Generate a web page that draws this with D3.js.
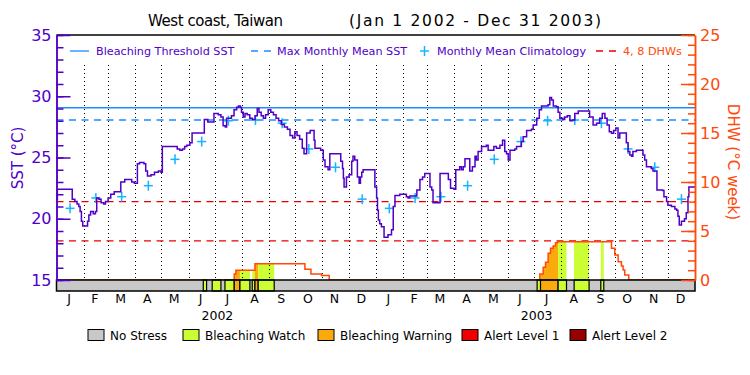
<!DOCTYPE html>
<html><head><meta charset="utf-8">
<script src="https://cdn.jsdelivr.net/npm/d3@7"></script>
<style>
body{margin:0;background:#fff;}
svg{display:block;font-family:"DejaVu Sans",sans-serif;}
</style></head><body>
<svg id="c" width="750" height="375"></svg>
<script>
// ---------------- DATA ----------------
const titleText = "West coast, Taiwan";
const periodText = "(Jan 1 2002 - Dec 31 2003)";
// SST (°C), day offset from Jan 1 2002 (step series)
const sstDays = [0,1,18,21,23.5,25.5,27,28.5,30,35.5,37,39,42,44.5,46,48.5,51,54,56,59,62,66,73.5,78,86,89,92.5,95,100,102,104,108,112,116.5,119.5,121,125,134,138,141,144,146.5,149,152.5,155,163,166.5,169,173,177,180,185,188,190.5,193,194.5,198,200,203,206,208,210,211.5,213.5,215.5,218,221,224,227,229.5,231.5,234,236.5,239,242,245,248,251,254,257,260.5,264,267,270,272.5,275,278,281,283,286,290,293,294.5,295.5,302,305,307,310.5,312.5,325,327,328,328.8,331.5,334.5,337.5,339,341,344,346,347.5,349,350.5,364,
366,367,368,369.5,371.5,374.5,379,383,385,387,392.5,400,402,404,412,415.5,418.5,421,427,429,430.5,438.5,448,450.5,454.5,456.5,461,463,465,467,472.5,475.5,478.5,480,482,486,491.5,493.5,500,503,507,510,512.5,514.5,516.5,518.5,524,526,531.5,533.5,537.5,543,545,549,552,554.5,562,564,566,568,571.5,573.5,575.5,579,581,584,587,590,592.5,596.5,608,609.5,613.5,617.5,621,624,627,629.5,632,634.5,637,639.5,642,644,649.5,651.5,653.5,655.5,657.5,659,663,669,670.5,672.5,674.5,680,682,686.5,693,694.5,697.5,699,703,707,709,710.5,712,714.5,718,720,722,723,730];
const sstValues = [21.6,22.4,21.6,21.4,21.2,21.0,20.6,19.8,19.4,19.8,20.3,20.6,20.4,20.6,21.7,21.6,21.3,21.2,21.4,21.7,22.0,22.2,23.0,23.2,23.0,22.9,24.5,24.6,24.5,23.9,23.5,23.6,23.8,23.9,23.8,25.9,25.9,25.9,25.7,25.6,25.7,25.9,26.0,26.2,27.0,27.0,27.0,28.1,27.9,27.9,28.6,28.5,28.3,27.6,27.5,28.2,28.2,28.4,28.9,29.1,29.2,29.1,28.7,28.3,28.6,28.5,28.2,28.1,28.4,29.0,28.7,28.4,28.2,28.5,28.9,28.7,28.5,28.2,28.0,27.7,27.5,27.3,26.8,26.6,27.1,26.8,26.5,25.75,25.3,27.0,27.2,27.2,26.4,25.75,25.6,24.8,24.25,24.0,25.3,24.7,24.1,23.3,22.6,23.4,23.6,24.7,25.1,24.8,23.4,22.9,23.4,23.8,24.0,22.6,
21.7,20.7,19.9,19.6,19.35,18.5,18.7,19.1,21.0,21.9,22.0,21.8,21.7,21.86,22.35,23.2,23.4,23.7,22.6,22.35,21.3,23.7,23.2,22.5,22.4,24.0,24.25,24.0,24.25,24.9,23.9,24.25,25.1,24.8,25.5,25.9,26.0,25.6,25.9,25.75,26.0,26.4,25.5,25.3,24.8,25.6,25.7,25.9,26.3,26.7,27.2,27.3,27.65,28.2,28.9,29.2,29.3,29.9,29.7,29.2,29.15,28.7,28.2,28.1,28.3,28.4,28.0,28.06,28.6,28.8,28.8,28.3,27.65,27.8,28.2,28.6,28.2,27.65,27.1,26.97,27.2,27.4,26.6,27.0,27.0,26.2,25.5,25.2,25.1,25.5,25.6,25.6,25.2,24.8,24.25,24.1,23.9,22.35,22.3,21.8,21.4,21.1,21.0,20.8,20.7,20.2,19.5,19.8,20.0,20.5,21.8,22.6,22.6];
// Monthly mean climatology (°C), Jan..Dec
const climValues = [20.85,21.7,21.8,22.7,24.85,26.3,28.0,28.06,27.8,25.7,24.2,21.6];
const maxMonthlyMean = 28.06;
const bleachingThreshold = 29.06;
const dhwRefLevels = [4, 8];
// Degree heating weeks (step series)
const dhwDays   = [0,203.2,205.1,226.9,284,290.9,303,311.8,552.6,556.4,559.1,562.1,564.8,567.8,570.5,572.8,634.5,638.3,642.1,645.9,647.8,649.7,654.3,730];
const dhwValues = [0,0.6,1.0,1.65,1.1,0.6,0.45,0,0.61,1.29,1.8,2.72,3.23,3.47,3.81,3.9,3.23,2.55,1.87,1.43,1.02,0.51,0,0];
// Bleaching alert status (0 no stress, 1 watch, 2 warning)
const statusStart = [0,167.8,171.6,178,188,192.6,203.2,209.7,221.1,223.8,226.9,230.6,248.9,549.5,553.4,573.5,583.1,591.8,608.9,622.3,625.7];
const statusLevel = [0,1,0,1,0,1,2,1,0,1,2,1,0,1,2,1,0,1,0,1,0];
const statusNames = ["No Stress","Bleaching Watch","Bleaching Warning","Alert Level 1","Alert Level 2"];
const monthLabels = ["J","F","M","A","M","J","J","A","S","O","N","D"];
const yearLabels = ["2002","2003"];
const sstTicks = [15,20,25,30,35];
const dhwTicks = [0,5,10,15,20,25];
const topLegend = ["Bleaching Threshold SST","Max Monthly Mean SST","Monthly Mean Climatology","4, 8 DHWs"];

// ---------------- STYLE ----------------
const C = {sst:"#5000C8", thr:"#1E8CFF", cross:"#14B4FF", dhw:"#FF4A0A", ref:"#E80000",
  status:["#C8C8C8","#CCFF33","#FAAA0A","#F00000","#960000"]};

const svg = d3.select("#c");
const L = 56.5, R = 695, T = 35, B = 280, SB = 291;
const x = d3.scaleLinear().domain([0,730]).range([L,R]);
const y = d3.scaleLinear().domain([15,35]).range([B,T]);
const yd = d3.scaleLinear().domain([0,25]).range([B,T]);

const t0 = Date.UTC(2002,0,1);
const dayOf = d => (d - t0)/864e5;
const months = d3.utcMonth.range(new Date(t0), new Date(Date.UTC(2004,0,2)));
const monthStarts = months.map(dayOf);
const monthMids = monthStarts.slice(0,-1).map((d,i)=>(d+monthStarts[i+1])/2);

// ---- status fills under DHW curve ----
const segs = statusStart.map((s,i)=>({s, e: i<statusStart.length-1?statusStart[i+1]:730, lev: statusLevel[i]}));
const dhwPts = dhwDays.map((d,i)=>[d,dhwValues[i]]);
const area = d3.area().x(d=>x(d[0])).y0(B).y1(d=>yd(d[1])).curve(d3.curveStepAfter);
const defs = svg.append("defs");
segs.filter(s=>s.lev>0).forEach((s,i)=>{
  defs.append("clipPath").attr("id","cp"+i).append("rect")
    .attr("x",x(s.s)).attr("y",T).attr("width",x(s.e)-x(s.s)).attr("height",B-T);
  svg.append("path").attr("d",area(dhwPts)).attr("fill",C.status[s.lev]).attr("clip-path",`url(#cp${i})`);
});

// ---- dotted month lines ----
svg.append("g").selectAll("line").data(monthStarts.filter(d=>d>0 && d<730)).join("line")
  .attr("x1",d=>Math.round(x(d))+0.5).attr("x2",d=>Math.round(x(d))+0.5).attr("y1",65).attr("y2",B)
  .attr("stroke","#000").attr("stroke-width",1).attr("stroke-dasharray","1,3");

// ---- reference lines ----
svg.append("line").attr("x1",L).attr("x2",R).attr("y1",y(bleachingThreshold)).attr("y2",y(bleachingThreshold))
  .attr("stroke",C.thr).attr("stroke-width",1.3);
svg.append("line").attr("x1",L).attr("x2",R).attr("y1",y(maxMonthlyMean)).attr("y2",y(maxMonthlyMean))
  .attr("stroke",C.thr).attr("stroke-width",1.3).attr("stroke-dasharray","7,5.5");
svg.append("g").selectAll("line").data(dhwRefLevels).join("line")
  .attr("x1",L).attr("x2",R).attr("y1",d=>yd(d)).attr("y2",d=>yd(d))
  .attr("stroke",C.ref).attr("stroke-width",1.3).attr("stroke-dasharray","7,5.5");

// ---- DHW line ----
svg.append("path").attr("d",d3.line().x(d=>x(d[0])).y(d=>yd(d[1])).curve(d3.curveStepAfter)(dhwPts))
  .attr("fill","none").attr("stroke",C.dhw).attr("stroke-width",1.5);

// ---- climatology crosses ----
const crosses = [];
monthMids.forEach((d,i)=>crosses.push([d, climValues[i%12]]));
const cg = svg.append("g").attr("stroke",C.cross).attr("stroke-width",1.5);
crosses.forEach(([d,v])=>{
  cg.append("line").attr("x1",x(d)-4.5).attr("x2",x(d)+4.5).attr("y1",y(v)).attr("y2",y(v));
  cg.append("line").attr("x1",x(d)).attr("x2",x(d)).attr("y1",y(v)-5).attr("y2",y(v)+5);
});

// ---- SST line ----
const sstPts = sstDays.map((d,i)=>[d,sstValues[i]]);
svg.append("path").attr("d",d3.line().x(d=>x(d[0])).y(d=>y(d[1])).curve(d3.curveStepAfter)(sstPts))
  .attr("fill","none").attr("stroke",C.sst).attr("stroke-width",1.5);

// ---- status strip ----
svg.append("rect").attr("x",L).attr("y",B).attr("width",R-L).attr("height",SB-B).attr("fill",C.status[0]);
svg.append("g").selectAll("rect").data(segs.filter(s=>s.lev>0)).join("rect")
  .attr("x",d=>x(d.s)).attr("y",B).attr("width",d=>x(d.e)-x(d.s)).attr("height",SB-B)
  .attr("fill",d=>C.status[d.lev]).attr("stroke","#000").attr("stroke-width",1.2);
svg.append("rect").attr("x",L).attr("y",B).attr("width",R-L).attr("height",SB-B)
  .attr("fill","none").attr("stroke","#000").attr("stroke-width",1.5);

// ---- frame top ----
svg.append("line").attr("x1",L).attr("x2",R).attr("y1",T).attr("y2",T).attr("stroke","#000").attr("stroke-width",1.5);

// ---- axes ----
const ax = (g,color)=>{g.selectAll("path,line").attr("stroke",color).attr("stroke-width",1.5);
  g.selectAll("text").attr("fill",color).attr("font-size",16).attr("font-family","DejaVu Sans");};
const gl = svg.append("g").attr("transform",`translate(${L},0)`);
gl.call(d3.axisLeft(y).tickValues(d3.range(15,36,1)).tickSizeInner(-7).tickSizeOuter(0).tickFormat(""));
gl.call(g=>ax(g,C.sst));
const gl2 = svg.append("g").attr("transform",`translate(${L},0)`);
gl2.call(d3.axisLeft(y).tickValues(sstTicks).tickSizeInner(-14).tickSizeOuter(0).tickPadding(5).tickFormat(d3.format("d")));
gl2.call(g=>ax(g,C.sst));
const gr = svg.append("g").attr("transform",`translate(${R},0)`);
gr.call(d3.axisRight(yd).tickValues(d3.range(0,26,1)).tickSizeInner(-7).tickSizeOuter(0).tickFormat(""));
gr.call(g=>ax(g,C.dhw));
const gr2 = svg.append("g").attr("transform",`translate(${R},0)`);
gr2.call(d3.axisRight(yd).tickValues(dhwTicks).tickSizeInner(-14).tickSizeOuter(0).tickPadding(5).tickFormat(d3.format("d")));
gr2.call(g=>ax(g,C.dhw));

// axis titles
svg.append("text").attr("transform","translate(23,158) rotate(-90)").attr("text-anchor","middle")
  .attr("fill",C.sst).attr("font-size",15).text("SST (°C)");
svg.append("text").attr("transform","translate(728,162) rotate(90)").attr("text-anchor","middle")
  .attr("fill",C.dhw).attr("font-size",15).text("DHW (°C week)");

// title
svg.append("text").attr("x",215.5).attr("y",26).attr("text-anchor","middle").attr("font-size",15)
  .attr("textLength",135).attr("lengthAdjust","spacing").text(titleText);
svg.append("text").attr("x",475).attr("y",26).attr("text-anchor","middle").attr("font-size",15.5)
  .attr("textLength",252).attr("lengthAdjust","spacing").text(periodText);

// month labels (bottom axis, no ticks)
const gx = svg.append("g").attr("transform",`translate(0,${SB})`);
gx.call(d3.axisBottom(x).tickValues(monthMids).tickSize(0).tickPadding(3)
  .tickFormat((d,i)=>monthLabels[i%12]));
gx.select(".domain").remove();
gx.selectAll("text").attr("font-size",12.5).attr("font-family","DejaVu Sans").attr("fill","#000")
  .attr("dx",-1.5);
svg.append("g").selectAll("text").data(yearLabels).join("text")
  .attr("x",(d,i)=>x(monthStarts[i*12+6]+3)).attr("y",320).attr("text-anchor","middle")
  .attr("font-size",12.5).text(d=>d);

// top legend
const tl = svg.append("g").attr("font-size",11.2);
tl.append("line").attr("x1",70).attr("x2",89).attr("y1",51).attr("y2",51).attr("stroke",C.thr).attr("stroke-width",1.3);
tl.append("text").attr("x",96).attr("y",55).attr("fill",C.sst).text(topLegend[0]);
tl.append("line").attr("x1",251).attr("x2",271).attr("y1",51).attr("y2",51).attr("stroke",C.thr).attr("stroke-width",1.3).attr("stroke-dasharray","7,6");
tl.append("text").attr("x",277).attr("y",55).attr("fill",C.sst).text(topLegend[1]);
tl.append("line").attr("x1",420).attr("x2",429).attr("y1",51).attr("y2",51).attr("stroke",C.cross).attr("stroke-width",1.5);
tl.append("line").attr("x1",424.5).attr("x2",424.5).attr("y1",46).attr("y2",56).attr("stroke",C.cross).attr("stroke-width",1.5);
tl.append("text").attr("x",437).attr("y",55).attr("fill",C.sst).text(topLegend[2]);
tl.append("line").attr("x1",596).attr("x2",617).attr("y1",51).attr("y2",51).attr("stroke",C.ref).attr("stroke-width",1.3).attr("stroke-dasharray","7,6");
tl.append("text").attr("x",623).attr("y",55).attr("fill",C.dhw).text(topLegend[3]);

// bottom legend
const boxX = [88,183,318,462,570];
const bl = svg.append("g").attr("font-size",12);
statusNames.forEach((n,i)=>{
  bl.append("rect").attr("x",boxX[i]).attr("y",329.5).attr("width",16).attr("height",11)
    .attr("fill",C.status[i]).attr("stroke","#000").attr("stroke-width",1);
  bl.append("text").attr("x",boxX[i]+22).attr("y",339.5).attr("fill","#000").text(n);
});
</script>
</body></html>
